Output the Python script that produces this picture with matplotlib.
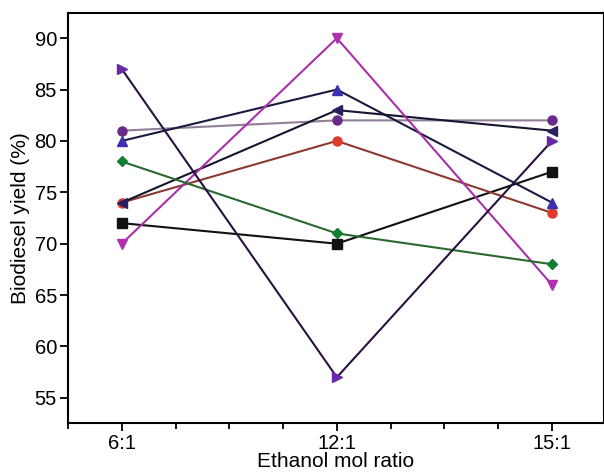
import numpy as np
import matplotlib.pyplot as plt
from matplotlib.ticker import MultipleLocator

plt.rcParams['font.family'] = ['Liberation Sans', 'DejaVu Sans']

ratios = ['6:1', '12:1', '15:1']
x = [1, 2, 3]

# yields (%) per series
sq_black = [72, 70, 77]
circ_red = [74, 80, 73]
tri_up = [80, 85, 74]
tri_left = [74, 83, 81]
circ_purple = [81, 82, 82]
tri_down = [70, 90, 66]
diamond = [78, 71, 68]
tri_right = [87, 57, 80]

series = [
    (sq_black, 's', '#111111', '#111111'),
    (circ_red, 'o', '#8a3a30', '#e03a2a'),
    (circ_purple, 'o', '#8f7f95', '#6a2a88'),
    (tri_up, '^', '#1a1a40', '#3a30b0'),
    (tri_left, '<', '#151530', '#2a2060'),
    (tri_down, 'v', '#a830a8', '#b030b0'),
    (diamond, 'D', '#2a6a30', '#108030'),
    (tri_right, '>', '#2a1040', '#6a28a8'),
]

fig = plt.figure(figsize=(6.04, 4.75), dpi=100)
ax = fig.add_axes([68 / 604, 1 - 423 / 475, 536 / 604, 410 / 475])

for vals, m, lc, fc in series:
    ms = 5 if m == 'D' else 6.5
    ax.plot(x, vals, color=lc, lw=1.5, marker=m, ms=ms,
            markerfacecolor=fc, markeredgecolor=fc)

ax.set_xlim(0.75, 3.242)
ax.set_ylim(52.55, 92.45)
ax.set_xticks(x)
ax.set_xticklabels(ratios)
ax.xaxis.set_minor_locator(MultipleLocator(0.25))
ax.yaxis.set_major_locator(MultipleLocator(5))
ax.tick_params(axis='both', which='major', direction='out', length=6, width=1.3,
               labelsize=14.5, pad=2)
ax.tick_params(axis='x', which='minor', direction='out', length=4, width=1.3)
for s in ax.spines.values():
    s.set_linewidth(1.5)

ax.set_xlabel('Ethanol mol ratio', fontsize=15, labelpad=-1)
ax.set_ylabel('Biodiesel yield (%)', fontsize=15, labelpad=3)

fig.savefig('out.png', dpi=100)
